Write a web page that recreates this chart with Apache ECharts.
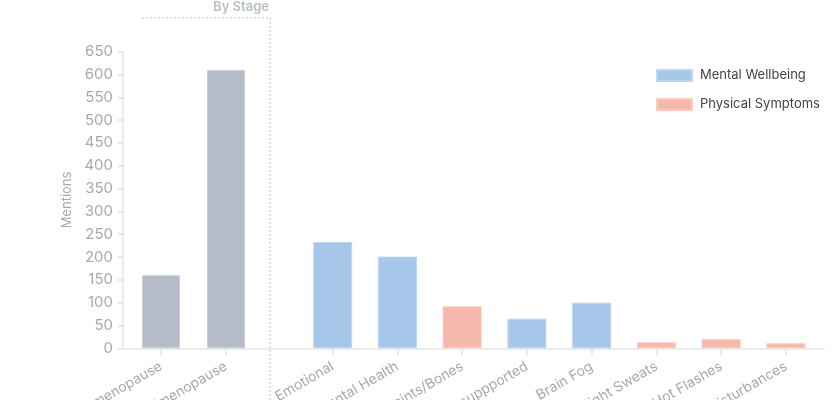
<!DOCTYPE html>
<html><head><meta charset="utf-8">
<script src="https://cdn.jsdelivr.net/npm/echarts@6/dist/echarts.min.js"></script>
<style>html,body{margin:0;padding:0;background:#fff}#c{width:840px;height:400px}</style>
</head><body><div id="c"></div>
<script>
const stageCategories = ['Postmenopause', 'Perimenopause'];
const stageValues = [160, 610];
const topicCategories = ['Emotional', 'Mental Health', 'Joints/Bones', 'Unsuppported', 'Brain Fog', 'Night Sweats', 'Hot Flashes', 'Sleep Disturbances'];
const mentalValues = [233, 201, '-', 65, 100, '-', '-', '-'];
const physicalValues = ['-', '-', 92, '-', '-', 13, 20, 11];
const yTicks = {min: 0, max: 650, interval: 50};

const FONT = 'Inter, "DejaVu Sans", sans-serif';
const chart = echarts.init(document.getElementById('c'), null, {renderer: 'canvas'});
const tickStyle = {show: true, alignWithLabel: true, length: 7, lineStyle: {color: '#e2e2e2', width: 1.5}};
const catLabel = {rotate: 30, color: '#a9a9a9', fontSize: 14, fontFamily: FONT, margin: 17, interval: 0};
const gridBase = {top: 51.7, bottom: 51.7, containLabel: false, outerBoundsMode: 'none'};
chart.setOption({
  animation: false,
  grid: [
    Object.assign({left: 128.5, width: 130}, gridBase),
    Object.assign({left: 300.3, right: 21.7}, gridBase),
    Object.assign({left: 123, right: 16}, gridBase)
  ],
  xAxis: [
    {type: 'category', gridIndex: 0, data: stageCategories, axisLine: {show: false}, axisTick: tickStyle, axisLabel: catLabel},
    {type: 'category', gridIndex: 1, data: topicCategories, axisLine: {show: false}, axisTick: tickStyle, axisLabel: catLabel},
    {type: 'value', gridIndex: 2, min: 0, max: 1, axisLine: {show: true, lineStyle: {color: '#ebebeb', width: 2}}, axisTick: {show: false}, axisLabel: {show: false}, splitLine: {show: false}}
  ],
  yAxis: [
    {type: 'value', gridIndex: 0, min: yTicks.min, max: yTicks.max, interval: yTicks.interval, offset: 5.5,
     name: 'Mentions', nameLocation: 'middle', nameGap: 49,
     nameTextStyle: {color: '#a9a9a9', fontSize: 13, fontFamily: FONT},
     axisLine: {show: true, lineStyle: {color: '#ebebeb', width: 2}},
     axisTick: {show: true, length: 5, lineStyle: {color: '#e2e2e2', width: 1.5}},
     axisLabel: {color: '#a9a9a9', fontSize: 15, fontFamily: FONT, margin: 10},
     splitLine: {show: false}},
    {type: 'value', gridIndex: 1, min: yTicks.min, max: yTicks.max, interval: yTicks.interval, show: false},
    {type: 'value', gridIndex: 2, min: 0, max: 1, show: false}
  ],
  legend: {
    data: ['Mental Wellbeing', 'Physical Symptoms'],
    orient: 'vertical', left: 651, top: 64,
    itemWidth: 35, itemHeight: 11, itemGap: 16,
    textStyle: {color: '#444', fontSize: 13, fontFamily: FONT, padding: [0, 0, 0, 3]},
    icon: 'rect'
  },
  series: [
    {name: 'By Stage', type: 'bar', xAxisIndex: 0, yAxisIndex: 0, data: stageValues, barWidth: 38,
     itemStyle: {color: '#b4bcc8', borderColor: '#c9d0da', borderWidth: 1}},
    {name: 'Mental Wellbeing', type: 'bar', xAxisIndex: 1, yAxisIndex: 1, data: mentalValues, barWidth: 39, stack: 't',
     itemStyle: {color: '#a7c7ea', borderColor: '#bdd6f1', borderWidth: 1}},
    {name: 'Physical Symptoms', type: 'bar', xAxisIndex: 1, yAxisIndex: 1, data: physicalValues, barWidth: 39, stack: 't',
     itemStyle: {color: '#f6b8ab', borderColor: '#f9cbc1', borderWidth: 1}}
  ],
  graphic: [
    {type: 'polyline', shape: {points: [[142, 18], [270, 18], [270, 400]]},
     style: {stroke: '#bbbbbb', lineWidth: 1, lineDash: [2, 2], fill: null}},
    {type: 'text', x: 269, y: 7, style: {text: 'By Stage', align: 'right', verticalAlign: 'middle',
     fill: '#b7c3b7', font: '600 13px ' + FONT}}
  ]
});
</script></body></html>
